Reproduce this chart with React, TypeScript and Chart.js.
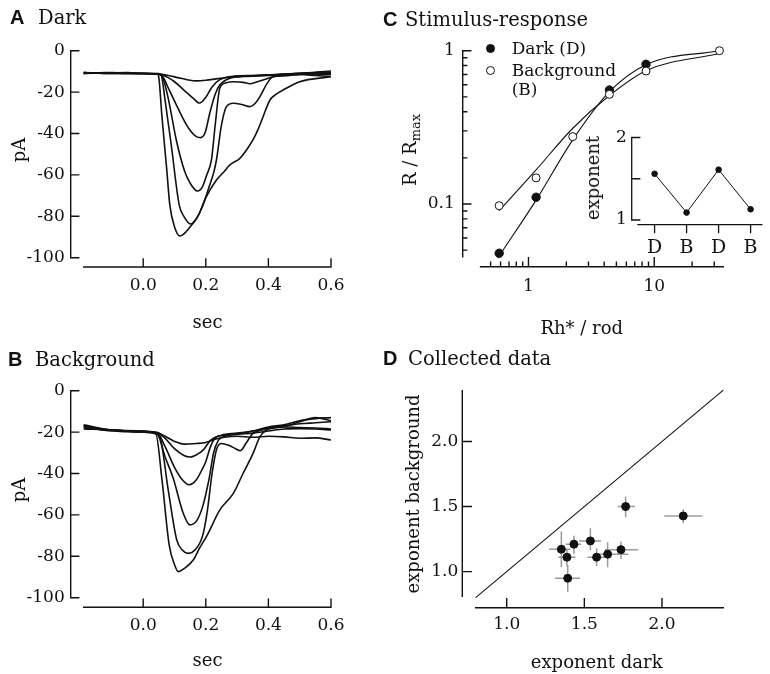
import React, { useEffect, useRef } from "react";
import { Chart, registerables } from "chart.js";

Chart.register(...registerables);

const PAGE_W = 770;
const PAGE_H = 674;
const SERIF = '"DejaVu Serif", serif';
const SANS = '"Liberation Sans", Arial, sans-serif';
const INK = "#111";

// ---------- Panel A / B: current traces (time in s, current in pA) ----------
const timeTicks = [0, 0.2, 0.4, 0.6];
const currentTicks = [0, -20, -40, -60, -80, -100];

const darkTrace1 = [[-0.19,-10.5],[-0.12,-10.8],[-0.05,-10.6],[0,-11],[0.05,-11.2],[0.08,-12],[0.11,-13],[0.14,-14],[0.17,-14.6],[0.2,-14.3],[0.24,-13.5],[0.3,-12.6],[0.36,-12],[0.42,-11.6],[0.48,-11],[0.54,-10.5],[0.6,-9.8]];
const darkTrace2 = [[-0.19,-11],[-0.12,-10.5],[-0.05,-11],[0,-11],[0.05,-11.3],[0.08,-13],[0.1,-15],[0.13,-19],[0.16,-23],[0.18,-25.3],[0.2,-22.5],[0.22,-17.5],[0.245,-14],[0.29,-12.3],[0.35,-12],[0.42,-11.5],[0.5,-11],[0.56,-10.5],[0.6,-10.5]];
const darkTrace3 = [[-0.19,-10.5],[-0.1,-11],[0,-11],[0.05,-11.3],[0.065,-13],[0.08,-18],[0.107,-26.5],[0.13,-33.5],[0.15,-38.5],[0.17,-41.5],[0.183,-42],[0.198,-39.5],[0.213,-30],[0.23,-21],[0.245,-16.5],[0.277,-13.3],[0.32,-12.5],[0.4,-12],[0.5,-11],[0.6,-11.5]];
const darkTrace4 = [[-0.19,-11],[-0.1,-10.8],[0,-11],[0.055,-11.5],[0.065,-14],[0.08,-23],[0.107,-44],[0.133,-58.5],[0.15,-64],[0.173,-67.8],[0.19,-65.5],[0.203,-60],[0.218,-52.8],[0.23,-36],[0.245,-18],[0.265,-15.5],[0.288,-15],[0.32,-15.3],[0.341,-16],[0.365,-15],[0.383,-14.2],[0.415,-12.6],[0.5,-11.5],[0.6,-11]];
const darkTrace5 = [[-0.19,-11],[-0.1,-10.5],[0,-11],[0.05,-11],[0.058,-12],[0.07,-24],[0.09,-46],[0.115,-74.5],[0.13,-80],[0.151,-83.7],[0.17,-81],[0.19,-75],[0.21,-66],[0.225,-59],[0.234,-52.8],[0.25,-36],[0.266,-27],[0.288,-25.4],[0.315,-26],[0.341,-27],[0.36,-25],[0.373,-22.2],[0.395,-16],[0.415,-12.6],[0.45,-12.2],[0.5,-11.5],[0.55,-12],[0.6,-12.5]];
const darkTrace6 = [[-0.19,-10.5],[-0.1,-11],[0,-11],[0.045,-11.2],[0.05,-13],[0.06,-32],[0.075,-57],[0.085,-74.5],[0.1,-85],[0.117,-89.5],[0.13,-88.5],[0.15,-85],[0.175,-80],[0.2,-71],[0.234,-62.5],[0.255,-59],[0.277,-55.2],[0.309,-52],[0.33,-48],[0.351,-43],[0.367,-38],[0.383,-31.9],[0.405,-23.8],[0.425,-21],[0.447,-19],[0.5,-15],[0.55,-13.5],[0.6,-12.6]];

const bgTrace1 = [[-0.19,-17],[-0.15,-18.5],[-0.1,-19],[-0.05,-19.5],[0,-19.8],[0.04,-20],[0.07,-22],[0.1,-24.5],[0.13,-25.8],[0.17,-25.5],[0.2,-25],[0.23,-23.5],[0.26,-22.5],[0.3,-22],[0.35,-22.5],[0.4,-22],[0.45,-22.3],[0.5,-23],[0.55,-22.8],[0.6,-23.8]];
const bgTrace2 = [[-0.19,-18],[-0.1,-19],[0,-20],[0.04,-20.2],[0.07,-23],[0.1,-28],[0.13,-31.3],[0.15,-32],[0.175,-30.5],[0.192,-28.6],[0.215,-24],[0.234,-22.2],[0.26,-21.5],[0.3,-21],[0.35,-19.5],[0.4,-17.5],[0.45,-16.5],[0.5,-14.5],[0.55,-13.5],[0.6,-13]];
const bgTrace3 = [[-0.19,-17.5],[-0.1,-19.5],[0,-20],[0.045,-20.5],[0.07,-27],[0.1,-37],[0.125,-43],[0.147,-45.4],[0.17,-43],[0.19,-37.5],[0.2,-34.3],[0.215,-27],[0.229,-23],[0.25,-21.5],[0.3,-20.5],[0.35,-19.5],[0.4,-18],[0.45,-17],[0.5,-16],[0.55,-15.5],[0.6,-15]];
const bgTrace4 = [[-0.19,-18.5],[-0.1,-19],[0,-20],[0.045,-21],[0.07,-32],[0.096,-42.3],[0.128,-59.2],[0.149,-64.8],[0.17,-63],[0.19,-56],[0.21,-43],[0.225,-30],[0.24,-24],[0.26,-22],[0.3,-21],[0.35,-20.5],[0.4,-19.5],[0.45,-18.5],[0.5,-18.3],[0.55,-18.5],[0.6,-19]];
const bgTrace5 = [[-0.19,-17],[-0.1,-19],[0,-19.5],[0.045,-21],[0.053,-22],[0.08,-48],[0.107,-72],[0.125,-77],[0.144,-78.6],[0.165,-77],[0.19,-70],[0.205,-58],[0.22,-40],[0.235,-28],[0.25,-25.5],[0.275,-26.5],[0.295,-28],[0.31,-29],[0.33,-25],[0.351,-20.6],[0.38,-19],[0.4,-18],[0.45,-17.3],[0.5,-15],[0.55,-13],[0.6,-14.5]];
const bgTrace6 = [[-0.19,-16.5],[-0.1,-19],[0,-19.5],[0.04,-20.5],[0.06,-43],[0.083,-74.5],[0.1,-84],[0.112,-87.4],[0.13,-86],[0.16,-81.8],[0.18,-76],[0.202,-70.5],[0.245,-57.6],[0.288,-49.6],[0.319,-40],[0.351,-30.3],[0.373,-22.2],[0.394,-19],[0.42,-18],[0.45,-17.5],[0.5,-17.8],[0.55,-18],[0.6,-18.5]];

const darkTraces = [darkTrace1, darkTrace2, darkTrace3, darkTrace4, darkTrace5, darkTrace6];
const bgTraces = [bgTrace1, bgTrace2, bgTrace3, bgTrace4, bgTrace5, bgTrace6];

// ---------- Panel C: stimulus-response ----------
const flashStrength = [0.585, 1.15, 2.25, 4.4, 8.6, 33];
const darkFlash = [0.585, 1.15, 4.4, 8.6];
const darkResponse = [0.0477, 0.1106, 0.554, 0.815];
const bgResponse = [0.0975, 0.148, 0.275, 0.519, 0.737, 1.0];
const darkFit = [0.0458, 0.106, 0.262, 0.54, 0.81, 1.0];
const bgFit = [0.0904, 0.167, 0.312, 0.51, 0.74, 0.96];
const responseTicks = [0.1, 1];
const responseMinor = [0.05, 0.06, 0.07, 0.08, 0.09, 0.2, 0.3, 0.4, 0.5, 0.6, 0.7, 0.8, 0.9];
const flashTicks = [1, 10];
const flashMinor = [0.5, 0.6, 0.7, 0.8, 0.9, 2, 3, 4, 5, 6, 7, 8, 9, 20, 30];

// inset
const insetConditions = ["D", "B", "D", "B"];
const insetExponent = [1.56, 1.09, 1.61, 1.13];
const insetTicks = [1, 1.5, 2];

// ---------- Panel D: collected data ----------
const exponentDark = [1.352, 1.388, 1.393, 1.433, 1.539, 1.579, 1.65, 1.736, 1.766, 2.137];
const exponentBg = [1.172, 1.111, 0.949, 1.211, 1.236, 1.111, 1.134, 1.169, 1.5, 1.428];
const exponentDarkLo = [1.272, 1.332, 1.311, 1.38, 1.465, 1.519, 1.569, 1.633, 1.715, 2.015];
const exponentDarkHi = [1.408, 1.444, 1.472, 1.48, 1.607, 1.628, 1.783, 1.847, 1.826, 2.26];
const exponentBgLo = [1.034, 1.04, 0.846, 1.136, 1.167, 1.044, 1.034, 1.098, 1.418, 1.372];
const exponentBgHi = [1.308, 1.17, 1.051, 1.275, 1.334, 1.18, 1.226, 1.231, 1.577, 1.48];
const unityRange = [0.8, 2.395];
const exponentTicks = [1, 1.5, 2];

// ---------- helpers ----------
type TickMark = [number, number];
interface AxisSpec { from: number; to: number; ticks: TickMark[]; dir: number }

function makeFrame(spec: { x?: AxisSpec; y?: AxisSpec; lw?: number }) {
  return {
    id: "frameAxes",
    afterDatasetsDraw(chart: any) {
      const { ctx, chartArea, scales } = chart;
      ctx.save();
      ctx.strokeStyle = INK;
      ctx.lineWidth = spec.lw ?? 1.4;
      ctx.lineCap = "square";
      if (spec.x) {
        const xs = scales.x;
        const y0 = chartArea.bottom;
        ctx.beginPath();
        ctx.moveTo(xs.getPixelForValue(spec.x.from), y0);
        ctx.lineTo(xs.getPixelForValue(spec.x.to), y0);
        for (const [v, len] of spec.x.ticks) {
          const p = xs.getPixelForValue(v);
          ctx.moveTo(p, y0);
          ctx.lineTo(p, y0 - spec.x.dir * len);
        }
        ctx.stroke();
      }
      if (spec.y) {
        const ys = scales.y;
        const x0 = chartArea.left;
        ctx.beginPath();
        ctx.moveTo(x0, ys.getPixelForValue(spec.y.from));
        ctx.lineTo(x0, ys.getPixelForValue(spec.y.to));
        for (const [v, len] of spec.y.ticks) {
          const p = ys.getPixelForValue(v);
          ctx.moveTo(x0, p);
          ctx.lineTo(x0 + spec.y.dir * len, p);
        }
        ctx.stroke();
      }
      ctx.restore();
    },
  };
}

function pad(l: number, t: number, r: number, b: number, yw: number, xh: number) {
  return { left: l - yw, top: t, right: PAGE_W - r, bottom: PAGE_H - b - xh };
}

function axisScale(type: string, min: number, max: number, tickVals: number[], label: (v: number) => string, size: number, padding: number, horizontal: boolean, fontSize = 17) {
  return {
    type,
    min,
    max,
    grid: { display: false, drawTicks: false },
    border: { display: false },
    afterBuildTicks: (s: any) => {
      s.ticks = tickVals.map((value) => ({ value }));
    },
    afterFit: (s: any) => {
      if (horizontal) s.height = size;
      else s.width = size;
    },
    ticks: {
      font: { family: SERIF, size: fontSize },
      color: INK,
      padding,
      autoSkip: false,
      maxRotation: 0,
      minRotation: 0,
      callback: (v: any) => label(Number(v)),
    },
  };
}

const baseOptions = {
  animation: false,
  responsive: false,
  events: [] as string[],
  plugins: { legend: { display: false }, tooltip: { enabled: false } },
};

function traceChart(traces: number[][][], top: number, bottom: number) {
  const yMin = -((bottom - top) / 2.07);
  return {
    type: "line",
    data: {
      datasets: traces.map((tr) => ({
        data: tr.map(([x, y]) => ({ x, y })),
        borderColor: INK,
        borderWidth: 1.6,
        pointRadius: 0,
        fill: false,
        cubicInterpolationMode: "monotone",
      })),
    },
    options: {
      ...baseOptions,
      layout: { padding: pad(70.7, top, 331, bottom, 60, 40) },
      scales: {
        x: axisScale("linear", -0.2316, 0.6, timeTicks, (v) => v.toFixed(1), 40, 8.5, true),
        y: axisScale("linear", yMin, 0, currentTicks, (v) => String(v), 60, 6, false),
      },
    },
    plugins: [
      makeFrame({
        x: { from: -0.19, to: 0.6, ticks: timeTicks.map((v) => [v, 8] as TickMark), dir: 1 },
        y: { from: -100, to: 0, ticks: currentTicks.map((v) => [v, 8] as TickMark), dir: 1 },
      }),
    ],
  };
}

function stimulusChart() {
  return {
    type: "scatter",
    data: {
      datasets: [
        {
          data: flashStrength.map((x, i) => ({ x, y: bgResponse[i] })),
          pointRadius: 4,
          pointBackgroundColor: "#fff",
          pointBorderColor: INK,
          pointBorderWidth: 1,
          showLine: false,
          clip: false,
        },
        {
          data: darkFlash.map((x, i) => ({ x, y: darkResponse[i] })),
          pointRadius: 4.2,
          pointBackgroundColor: INK,
          pointBorderColor: INK,
          showLine: false,
          clip: false,
        },
        {
          data: flashStrength.map((x, i) => ({ x, y: darkFit[i] })),
          showLine: true,
          borderColor: INK,
          borderWidth: 1.1,
          pointRadius: 0,
          cubicInterpolationMode: "monotone",
          clip: false,
        },
        {
          data: flashStrength.map((x, i) => ({ x, y: bgFit[i] })),
          showLine: true,
          borderColor: INK,
          borderWidth: 1.1,
          pointRadius: 0,
          cubicInterpolationMode: "monotone",
          clip: false,
        },
      ],
    },
    options: {
      ...baseOptions,
      layout: { padding: pad(462.7, 50.7, 723.3, 266.7, 60, 40) },
      scales: {
        x: axisScale("logarithmic", 0.334, 35.4, flashTicks, (v) => String(v), 40, 10, true),
        y: axisScale("logarithmic", 0.039, 1, responseTicks, (v) => String(v), 60, 8, false),
      },
    },
    plugins: [
      makeFrame({
        x: {
          from: 0.416,
          to: 35.4,
          ticks: [...flashTicks.map((v) => [v, 9] as TickMark), ...flashMinor.map((v) => [v, 4.5] as TickMark)],
          dir: 1,
        },
        y: {
          from: 0.0453,
          to: 1,
          ticks: [...responseTicks.map((v) => [v, 8] as TickMark), ...responseMinor.map((v) => [v, 4] as TickMark)],
          dir: 1,
        },
      }),
    ],
  };
}

function insetChart() {
  return {
    type: "scatter",
    data: {
      datasets: [
        {
          data: insetExponent.map((y, i) => ({ x: i + 1, y })),
          showLine: true,
          borderColor: INK,
          borderWidth: 1,
          pointRadius: 2.8,
          pointBackgroundColor: INK,
          pointBorderColor: INK,
          clip: false,
        },
      ],
    },
    options: {
      ...baseOptions,
      layout: { padding: pad(631.7, 137.5, 770, 224.7, 40, 40) },
      scales: {
        x: axisScale("linear", 0.285, 4.35, [1, 2, 3, 4], (v) => insetConditions[Math.round(v) - 1] ?? "", 40, 12, true, 19),
        y: axisScale("linear", 0.943, 2, insetTicks, (v) => (v === 1.5 ? "" : String(v)), 40, 5, false),
      },
    },
    plugins: [
      makeFrame({
        x: { from: 0.48, to: 4.35, ticks: [1, 2, 3, 4].map((v) => [v, 8] as TickMark), dir: -1 },
        y: { from: 1, to: 2, ticks: insetTicks.map((v) => [v, 8] as TickMark), dir: 1 },
        lw: 1.3,
      }),
    ],
  };
}

function collectedChart() {
  const hBars: any[] = [];
  const vBars: any[] = [];
  exponentDark.forEach((x, i) => {
    const y = exponentBg[i];
    hBars.push({ x: exponentDarkLo[i], y }, { x: exponentDarkHi[i], y }, { x, y: null });
    vBars.push({ x, y: exponentBgLo[i] }, { x, y: exponentBgHi[i] }, { x, y: null });
  });
  return {
    type: "scatter",
    data: {
      datasets: [
        {
          data: exponentDark.map((x, i) => ({ x, y: exponentBg[i] })),
          pointRadius: 4,
          pointBackgroundColor: INK,
          pointBorderColor: INK,
          showLine: false,
        },
        { data: hBars, showLine: true, spanGaps: false, borderColor: "#9a9a9a", borderWidth: 1.5, pointRadius: 0 },
        { data: vBars, showLine: true, spanGaps: false, borderColor: "#9a9a9a", borderWidth: 1.5, pointRadius: 0 },
        {
          data: unityRange.map((v) => ({ x: v, y: v })),
          showLine: true,
          borderColor: INK,
          borderWidth: 1.1,
          pointRadius: 0,
          clip: false,
        },
      ],
    },
    options: {
      ...baseOptions,
      layout: { padding: pad(462.3, 390.7, 723.3, 607.7, 60, 40) },
      scales: {
        x: axisScale("linear", 0.714, 2.395, exponentTicks, (v) => v.toFixed(1), 40, 7, true),
        y: axisScale("linear", 0.723, 2.39, exponentTicks, (v) => v.toFixed(1), 60, 4, false),
      },
    },
    plugins: [
      makeFrame({
        x: { from: 0.8, to: 2.395, ticks: exponentTicks.map((v) => [v, 9] as TickMark), dir: 1 },
        y: { from: 0.81, to: 2.39, ticks: exponentTicks.map((v) => [v, 9] as TickMark), dir: 1 },
      }),
    ],
  };
}

function ChartLayer({ make }: { make: () => any }) {
  const ref = useRef<HTMLCanvasElement>(null);
  useEffect(() => {
    const chart = new Chart(ref.current as HTMLCanvasElement, make());
    return () => chart.destroy();
  }, []);
  return (
    <canvas
      ref={ref}
      width={PAGE_W}
      height={PAGE_H}
      style={{ position: "absolute", left: 0, top: 0, width: PAGE_W, height: PAGE_H }}
    />
  );
}

function Label({ cx, cy, size = 18, rotate = false, children }: { cx: number; cy: number; size?: number; rotate?: boolean; children: React.ReactNode }) {
  return (
    <div
      style={{
        position: "absolute",
        left: cx,
        top: cy,
        transform: `translate(-50%, -50%)${rotate ? " rotate(-90deg)" : ""}`,
        fontFamily: SERIF,
        fontSize: size,
        lineHeight: 1,
        color: INK,
        whiteSpace: "nowrap",
      }}
    >
      {children}
    </div>
  );
}

function PanelTitle({ x, capTop, letter, textX, text }: { x: number; capTop: number; letter: string; textX: number; text: string }) {
  return (
    <>
      <div style={{ position: "absolute", left: x, top: capTop - 2.6, fontFamily: SANS, fontWeight: 700, fontSize: 20, lineHeight: 1, color: INK }}>
        {letter}
      </div>
      <div style={{ position: "absolute", left: textX, top: capTop - 2.4, fontFamily: SERIF, fontSize: 19.5, lineHeight: 1, color: INK, whiteSpace: "nowrap" }}>
        {text}
      </div>
    </>
  );
}

function Dot({ cx, cy, filled }: { cx: number; cy: number; filled: boolean }) {
  return (
    <div
      style={{
        position: "absolute",
        left: cx - 4.5,
        top: cy - 4.5,
        width: 9,
        height: 9,
        boxSizing: "border-box",
        borderRadius: "50%",
        border: `1px solid ${INK}`,
        background: filled ? INK : "#fff",
      }}
    />
  );
}

function LegendText({ x, cy, children }: { x: number; cy: number; children: React.ReactNode }) {
  return (
    <div style={{ position: "absolute", left: x, top: cy, transform: "translateY(-50%)", fontFamily: SERIF, fontSize: 17, lineHeight: 1, color: INK, whiteSpace: "nowrap" }}>
      {children}
    </div>
  );
}

export default function App() {
  return (
    <div style={{ position: "absolute", left: 0, top: 0, width: PAGE_W, height: PAGE_H, background: "#fff", overflow: "hidden" }}>
      <ChartLayer make={() => traceChart(darkTraces, 50.7, 267)} />
      <ChartLayer make={() => traceChart(bgTraces, 390.7, 607.3)} />
      <ChartLayer make={stimulusChart} />
      <ChartLayer make={insetChart} />
      <ChartLayer make={collectedChart} />

      <PanelTitle x={10} capTop={10} letter="A" textX={38} text="Dark" />
      <PanelTitle x={8} capTop={352} letter="B" textX={35} text="Background" />
      <PanelTitle x={383} capTop={12} letter="C" textX={405} text="Stimulus-response" />
      <PanelTitle x={383} capTop={351} letter="D" textX={408} text="Collected data" />

      <Label cx={19} cy={150} rotate>pA</Label>
      <Label cx={207.5} cy={322}>sec</Label>
      <Label cx={19} cy={490} rotate>pA</Label>
      <Label cx={207.5} cy={660}>sec</Label>

      <Label cx={411.7} cy={150} rotate>
        R / R<sub style={{ fontSize: "0.72em", verticalAlign: "-0.3em" }}>max</sub>
      </Label>
      <Label cx={581.7} cy={328.3}>Rh* / rod</Label>
      <Label cx={592.5} cy={178} rotate>exponent</Label>
      <Label cx={413.3} cy={494} rotate>exponent background</Label>
      <Label cx={596.7} cy={661.7}>exponent dark</Label>

      <Dot cx={490} cy={48.3} filled />
      <LegendText x={511.7} cy={48.3}>Dark (D)</LegendText>
      <Dot cx={490} cy={70} filled={false} />
      <LegendText x={511.7} cy={70}>Background</LegendText>
      <LegendText x={511.7} cy={89.3}>(B)</LegendText>
    </div>
  );
}
